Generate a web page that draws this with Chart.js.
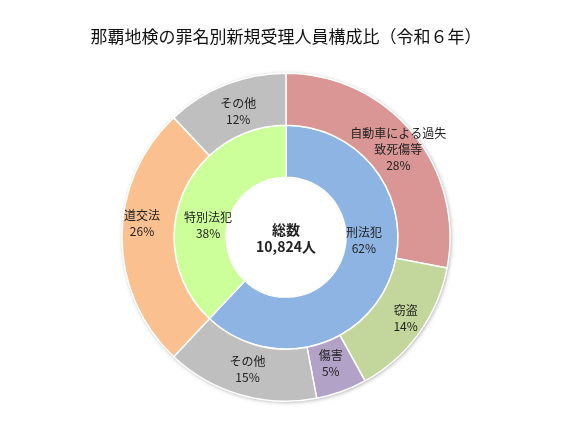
<!DOCTYPE html>
<html>
<head>
<meta charset="utf-8">
<script src="https://cdn.jsdelivr.net/npm/chart.js@4/dist/chart.umd.min.js"></script>
<style>
  html, body { margin: 0; padding: 0; background: #fff; }
  #wrap { width: 572px; height: 437px; }
</style>
</head>
<body>
<div id="wrap"><canvas id="chart"></canvas></div>
<script>
// outer ring (breakdown)
var outerLabels = [['自動車による過失', '致死傷等'], ['窃盗'], ['傷害'], ['その他'], ['道交法'], ['その他']];
var outerValues = [28, 14, 5, 15, 26, 12];
var outerColors = ['#D99694', '#C3D69B', '#B3A2C7', '#BFBFBF', '#FAC090', '#BFBFBF'];

// inner ring (刑法犯 / 特別法犯)
var innerLabels = [['刑法犯'], ['特別法犯']];
var innerValues = [62, 38];
var innerColors = ['#8EB4E3', '#CCFF99'];

var centerText = ['総数', '10,824人'];
var titleText = '那覇地検の罪名別新規受理人員構成比（令和６年）';

var FONT = '"Noto Sans CJK JP", "Noto Sans", sans-serif';

// small nudges so labels sit where the original puts them
var nudge = {
    '0-0': [6, 0], '0-1': [8, 0], '0-2': [-2, -4], '0-4': [-6, -14], '0-5': [3, 3],
    '1-0': [-2, -28], '1-1': [2, 20]
};

var sliceLabels = {
    id: 'sliceLabels',
    afterDatasetsDraw: function (chart) {
        var ctx = chart.ctx;
        ctx.save();
        ctx.fillStyle = '#222';
        ctx.textAlign = 'center';
        ctx.textBaseline = 'middle';
        ctx.font = '12px ' + FONT;
        chart.data.datasets.forEach(function (ds, di) {
            var meta = chart.getDatasetMeta(di);
            meta.data.forEach(function (arc, i) {
                var mid = (arc.startAngle + arc.endAngle) / 2;
                var r = (arc.innerRadius + arc.outerRadius) / 2;
                var x = arc.x + Math.cos(mid) * r;
                var y = arc.y + Math.sin(mid) * r;
                var n = nudge[di + '-' + i] || [0, 0];
                x += n[0]; y += n[1];
                var lines = ds.names[i].concat([ds.data[i] + '%']);
                var lh = 16;
                var y0 = y - (lines.length - 1) * lh / 2;
                lines.forEach(function (t, k) {
                    ctx.fillText(t, x, y0 + k * lh);
                });
            });
        });
        // centre text
        var a = chart.getDatasetMeta(0).data[0];
        ctx.font = 'bold 14px ' + FONT;
        ctx.fillText(centerText[0], a.x, a.y - 8);
        ctx.fillText(centerText[1], a.x, a.y + 9);
        ctx.restore();
    }
};

var ringShadow = {
    id: 'ringShadow',
    beforeDatasetsDraw: function (chart) {
        var ctx = chart.ctx;
        var a = chart.getDatasetMeta(0).data[0];
        if (!a) return;
        ctx.save();
        ctx.beginPath();
        ctx.arc(a.x, a.y, a.outerRadius, 0, Math.PI * 2);
        ctx.shadowColor = 'rgba(0,0,0,0.35)';
        ctx.shadowBlur = 4;
        ctx.shadowOffsetX = 1;
        ctx.shadowOffsetY = 1;
        ctx.fillStyle = '#fff';
        ctx.fill();
        ctx.restore();
    }
};

new Chart(document.getElementById('chart'), {
    type: 'doughnut',
    data: {
        labels: outerLabels.map(function (l) { return l.join(''); }),
        datasets: [
            {
                data: outerValues,
                names: outerLabels,
                backgroundColor: outerColors,
                borderColor: '#fff',
                borderWidth: 1.5
            },
            {
                data: innerValues,
                names: innerLabels,
                backgroundColor: innerColors,
                borderColor: '#fff',
                borderWidth: 1.5
            }
        ]
    },
    options: {
        responsive: true,
        maintainAspectRatio: false,
        animation: false,
        cutout: '36.5%',
        layout: { padding: { top: 0, bottom: 35, left: 0, right: 0 } },
        plugins: {
            legend: { display: false },
            tooltip: { enabled: false },
            title: {
                display: true,
                text: titleText,
                color: '#111',
                font: { family: FONT, size: 17, weight: 'normal' },
                padding: { top: 26, bottom: 26 }
            }
        }
    },
    plugins: [ringShadow, sliceLabels]
});
</script>
</body>
</html>
